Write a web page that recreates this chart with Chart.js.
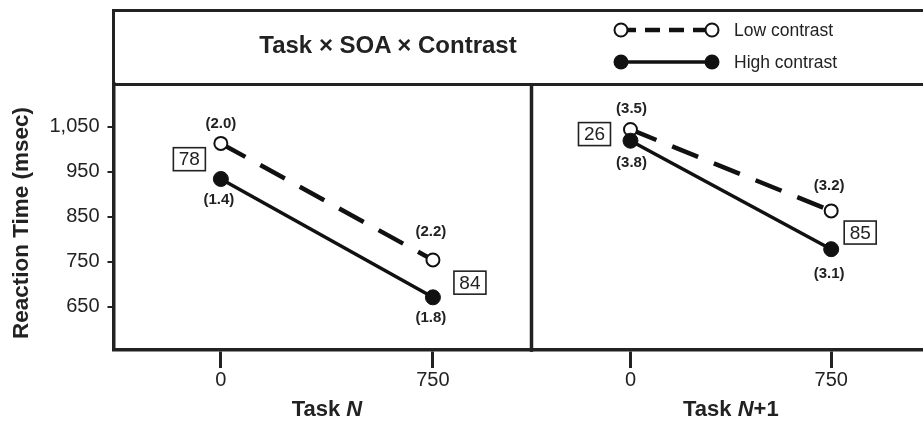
<!DOCTYPE html>
<html><head><meta charset="utf-8">
<script src="https://cdn.jsdelivr.net/npm/chart.js@4.4.1/dist/chart.umd.min.js"></script>
<style>
html,body{margin:0;padding:0;background:#fff;overflow:hidden;width:923px;height:423px;}
#wrap{position:relative;width:923px;height:423px;overflow:hidden;font-family:"Liberation Sans",Arial,sans-serif;color:#222;}
#cA{position:absolute;left:0;top:0;}
#cB{position:absolute;left:520px;top:0;}
#header{position:absolute;left:111.75px;top:9.25px;width:1000px;height:76.5px;box-sizing:border-box;border:3.5px solid #222;}
#title{position:absolute;left:388px;top:45px;transform:translate(-50%,-50%);font-weight:bold;font-size:24px;white-space:nowrap;}
#legend{position:absolute;left:0;top:0;}
</style></head>
<body><div id="wrap">
<canvas id="cA" width="540" height="423"></canvas>
<canvas id="cB" width="480" height="423"></canvas>
<div id="header"></div>
<div id="title"></div>
<svg id="legend" width="923" height="90">
  <line x1="621" y1="30" x2="712" y2="30" stroke="#111" stroke-width="4.5" stroke-dasharray="15 9"/>
  <circle cx="621" cy="30" r="6.5" fill="#fff" stroke="#111" stroke-width="2"/>
  <circle cx="712" cy="30" r="6.5" fill="#fff" stroke="#111" stroke-width="2"/>
  <line x1="621" y1="62" x2="712" y2="62" stroke="#111" stroke-width="3.5"/>
  <circle cx="621" cy="62" r="7.5" fill="#111"/>
  <circle cx="712" cy="62" r="7.5" fill="#111"/>
  <text id="lg0" x="734" y="36" font-size="17.5" fill="#222" font-family="Liberation Sans, Arial, sans-serif"></text>
  <text id="lg1" x="734" y="68" font-size="17.5" fill="#222" font-family="Liberation Sans, Arial, sans-serif"></text>
</svg>
</div>
<script>
// ---- data ----
const chartTitle = 'Task \u00d7 SOA \u00d7 Contrast';
const seriesNames = ['Low contrast', 'High contrast'];
const soa = [0, 750];
const yTicks = [650, 750, 850, 950, 1050];
const yAxisTitle = 'Reaction Time (msec)';
const taskN_low = [1013, 754];
const taskN_high = [934, 671];
const taskN1_low = [1044, 863];
const taskN1_high = [1019, 778];
const taskN_lowSE = ['(2.0)', '(2.2)'];
const taskN_highSE = ['(1.4)', '(1.8)'];
const taskN1_lowSE = ['(3.5)', '(3.2)'];
const taskN1_highSE = ['(3.8)', '(3.1)'];
const taskN_boxes = ['78', '84'];
const taskN1_boxes = ['26', '85'];
const panelTitleN = ['Task ', 'N', ''];
const panelTitleN1 = ['Task ', 'N', '+1'];

document.getElementById('title').textContent = chartTitle;
document.getElementById('lg0').textContent = seriesNames[0];
document.getElementById('lg1').textContent = seriesNames[1];

const FAM = '"Liberation Sans", Arial, sans-serif';
Chart.defaults.font.family = FAM;
Chart.defaults.color = '#222';

function datasets(low, high) {
  return [
    { label: seriesNames[1], data: soa.map((s, i) => ({x: s, y: high[i]})),
      borderColor: '#111', borderWidth: 3.5, pointRadius: 7.5, pointHoverRadius: 7.5,
      pointBackgroundColor: '#111', pointBorderColor: '#111', pointBorderWidth: 1, tension: 0 },
    { label: seriesNames[0], data: soa.map((s, i) => ({x: s, y: low[i]})),
      borderColor: '#111', borderWidth: 4.5, borderDash: [28, 17], pointRadius: 6.5, pointHoverRadius: 6.5,
      pointBackgroundColor: '#fff', pointBorderColor: '#111', pointBorderWidth: 2, tension: 0 }
  ];
}

const annotPlugin = {
  id: 'annot',
  afterDraw(chart, args, o) {
    const {ctx} = chart;
    const x = chart.scales.x, y = chart.scales.y;
    ctx.save();
    ctx.fillStyle = '#222'; ctx.strokeStyle = '#222';
    ctx.textAlign = 'center'; ctx.textBaseline = 'middle';
    ctx.font = 'bold 15px ' + FAM;
    o.se.forEach(s => {
      s.texts.forEach((t, i) => {
        ctx.fillText(t, x.getPixelForValue(soa[i]) + s.dx[i], y.getPixelForValue(s.values[i]) + s.dy[i]);
      });
    });
    ctx.font = '19px ' + FAM;
    o.boxes.forEach((t, i) => {
      const cx = x.getPixelForValue(soa[i]) + o.boxDx[i];
      const cy = (y.getPixelForValue(o.low[i]) + y.getPixelForValue(o.high[i])) / 2 + o.boxDy[i];
      ctx.fillText(t, cx, cy + 1);
      ctx.lineWidth = 1.6;
      ctx.strokeRect(cx - 16, cy - 11.5, 32, 23);
    });
    // panel title with italic N
    const parts = o.title;
    const fonts = ['bold 22px ' + FAM, 'italic bold 22px ' + FAM, 'bold 22px ' + FAM];
    let w = 0;
    parts.forEach((p, i) => { ctx.font = fonts[i]; w += ctx.measureText(p).width; });
    let px = (x.getPixelForValue(soa[0]) + x.getPixelForValue(soa[1])) / 2 - w / 2;
    ctx.textAlign = 'left';
    parts.forEach((p, i) => { ctx.font = fonts[i]; ctx.fillText(p, px, 410); px += ctx.measureText(p).width; });
    // y axis title
    if (o.yTitle) {
      ctx.save();
      ctx.translate(22, (chart.chartArea.top + chart.chartArea.bottom) / 2 + 6);
      ctx.rotate(-Math.PI / 2);
      ctx.textAlign = 'center';
      ctx.font = 'bold 22.5px ' + FAM;
      ctx.fillText(o.yTitle, 0, 0);
      ctx.restore();
    }
    // panel divider
    if (o.rightBorder) {
      ctx.lineWidth = 3.5; ctx.strokeStyle = '#222';
      ctx.beginPath(); ctx.moveTo(chart.chartArea.right, chart.chartArea.top); ctx.lineTo(chart.chartArea.right, chart.chartArea.bottom + 1.75); ctx.stroke();
    }
    ctx.restore();
  }
};

function xScale(min, max) {
  return {
    type: 'linear', min: min, max: max,
    afterBuildTicks: s => { s.ticks = soa.map(v => ({value: v})); },
    afterFit: s => { s.height = 73; },
    grid: { display: true, drawOnChartArea: false, drawTicks: true, tickLength: 18, lineWidth: 3, color: '#222' },
    border: { display: true, width: 3.5, color: '#222' },
    ticks: { font: { size: 20 }, color: '#222', padding: 0, maxRotation: 0 }
  };
}

const yMin = 554, yMax = 1145;

new Chart(document.getElementById('cA'), {
  type: 'line',
  data: { datasets: datasets(taskN_low, taskN_high) },
  options: {
    responsive: false, animation: false, devicePixelRatio: 1,
    layout: { padding: { top: 84, right: 8, left: 0, bottom: 0 } },
    plugins: { legend: { display: false }, tooltip: { enabled: false },
      annot: { se: [
          { texts: taskN_lowSE, values: taskN_low, dx: [0, -2], dy: [-20, -28] },
          { texts: taskN_highSE, values: taskN_high, dx: [-2, -2], dy: [21, 21] } ],
        boxes: taskN_boxes, low: taskN_low, high: taskN_high, boxDx: [-31.5, 37], boxDy: [-2, 4],
        title: panelTitleN, yTitle: yAxisTitle, rightBorder: true } },
    scales: {
      x: xScale(-379.7, 1098.6),
      y: {
        type: 'linear', min: yMin, max: yMax,
        afterBuildTicks: s => { s.ticks = yTicks.map(v => ({value: v})); },
        afterFit: s => { s.width = 113.5; },
        grid: { display: true, drawOnChartArea: false, drawTicks: true, tickLength: 6, lineWidth: 2, color: '#222' },
        border: { display: true, width: 3.5, color: '#222' },
        ticks: { font: { size: 20 }, color: '#222', padding: 8, callback: v => v.toLocaleString('en-US') },
        title: { display: false }
      }
    }
  },
  plugins: [annotPlugin]
});

new Chart(document.getElementById('cB'), {
  type: 'line',
  data: { datasets: datasets(taskN1_low, taskN1_high) },
  options: {
    responsive: false, animation: false, devicePixelRatio: 1,
    layout: { padding: { top: 84, right: 0, left: 12, bottom: 0 } },
    plugins: { legend: { display: false }, tooltip: { enabled: false },
      annot: { se: [
          { texts: taskN1_lowSE, values: taskN1_low, dx: [1, -2], dy: [-21, -25] },
          { texts: taskN1_highSE, values: taskN1_high, dx: [1, -2], dy: [22, 25] } ],
        boxes: taskN1_boxes, low: taskN1_low, high: taskN1_high, boxDx: [-36, 29], boxDy: [-1, 2.5],
        title: panelTitleN1, yTitle: null, rightBorder: false } },
    scales: {
      x: xScale(-368, 1349),
      y: { type: 'linear', min: yMin, max: yMax, display: false }
    }
  },
  plugins: [annotPlugin]
});
</script>
</body></html>
